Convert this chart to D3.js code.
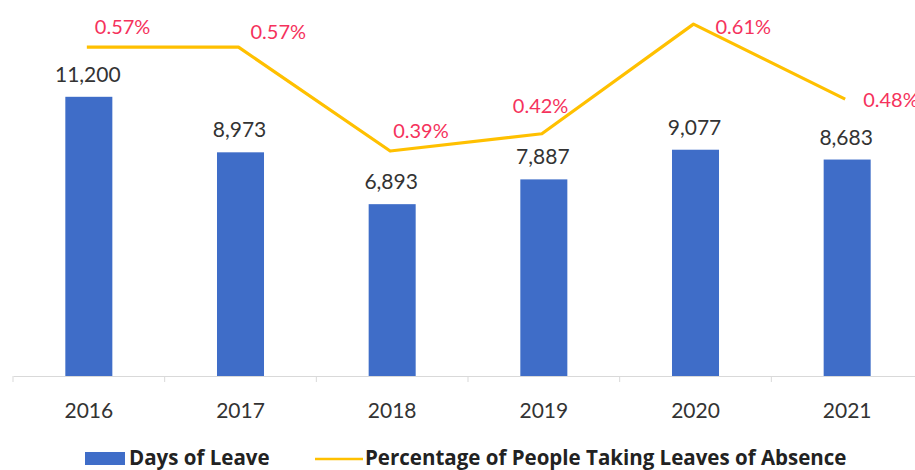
<!DOCTYPE html>
<html>
<head>
<meta charset="utf-8">
<script src="https://cdn.jsdelivr.net/npm/d3@7"></script>
<style>
  html, body { margin: 0; padding: 0; background: #fff; }
  svg { display: block; }
  text { font-family: Lato, "Open Sans", sans-serif; }
</style>
</head>
<body>
<svg id="chart" width="915" height="470"></svg>
<script>
// ---- data ----
const years = ["2016", "2017", "2018", "2019", "2020", "2021"];
const daysOfLeave = [11200, 8973, 6893, 7887, 9077, 8683];
const percentTaking = [0.57, 0.57, 0.39, 0.42, 0.61, 0.48];
const percentLabels = ["0.57%", "0.57%", "0.39%", "0.42%", "0.61%", "0.48%"];
const seriesNames = ["Days of Leave", "Percentage of People Taking Leaves of Absence"];

// ---- layout (label placement offsets, not data) ----
const pctLabelOffsets = [[6, -13], [10, -8], [1, -13], [-31, -21], [20, 10], [16, 8]];

const W = 915, H = 470;
const svg = d3.select("#chart");

const x = d3.scaleBand().domain(years).range([13, 923])
  .paddingInner(0.69).paddingOuter(0.345);
const y = d3.scaleLinear().domain([0, 14000]).range([376, 27]);
const y2 = d3.scaleLinear().domain([0, 0.605]).range([376, 27]);

const blue = "#3f6dc8", gold = "#FFC000", red = "#f5325c", dark = "#333333";

// baseline axis
const xAxis = svg.append("g").attr("transform", `translate(0,${y(0)})`)
  .call(d3.axisBottom(x).tickSize(0).tickPadding(27));
xAxis.select(".domain").attr("stroke", "#d9d9d9").attr("stroke-width", 1);
xAxis.selectAll("text").attr("font-size", 21).attr("fill", dark)
  .style("font-family", "Lato, 'Open Sans', sans-serif");
// faint boundary ticks
const bounds = [x.range()[0]].concat(years.slice(1).map(d => x(d) - x.step() * x.paddingInner() / 2));
xAxis.selectAll("line.bound").data(bounds).enter().append("line")
  .attr("class", "bound")
  .attr("x1", d => d).attr("x2", d => d).attr("y1", 0).attr("y2", 6)
  .attr("stroke", "#d9d9d9");

// bars
svg.append("g").selectAll("rect").data(years).enter().append("rect")
  .attr("x", d => x(d))
  .attr("width", x.bandwidth())
  .attr("y", (d, i) => y(daysOfLeave[i]))
  .attr("height", (d, i) => y(0) - y(daysOfLeave[i]))
  .attr("fill", blue);

// bar labels
svg.append("g").selectAll("text").data(years).enter().append("text")
  .attr("x", d => x(d) + x.bandwidth() / 2 - 1)
  .attr("y", (d, i) => y(daysOfLeave[i]) - 15)
  .attr("text-anchor", "middle")
  .attr("font-size", 21)
  .attr("fill", dark)
  .text((d, i) => d3.format(",")(daysOfLeave[i]));

// line
const line = d3.line()
  .x((d, i) => x(years[i]) + x.bandwidth() / 2 - 2)
  .y(d => y2(d));
svg.append("path").datum(percentTaking)
  .attr("d", line)
  .attr("fill", "none")
  .attr("stroke", gold)
  .attr("stroke-width", 3.2)
  .attr("stroke-linejoin", "round");

// percentage labels
svg.append("g").selectAll("text").data(percentTaking).enter().append("text")
  .attr("x", (d, i) => x(years[i]) + x.bandwidth() / 2 + pctLabelOffsets[i][0])
  .attr("y", (d, i) => y2(d) + pctLabelOffsets[i][1])
  .attr("font-size", 20)
  .attr("fill", red)
  .text((d, i) => percentLabels[i]);

// legend
const lg = svg.append("g");
lg.append("rect").attr("x", 85).attr("y", 452).attr("width", 40).attr("height", 13).attr("fill", blue);
lg.append("text").attr("x", 129).attr("y", 465).attr("font-size", 20.5).attr("font-weight", "bold")
  .style("font-family", "'Open Sans', Lato, sans-serif")
  .attr("fill", "#222").text(seriesNames[0]);
lg.append("line").attr("x1", 315).attr("x2", 363).attr("y1", 459).attr("y2", 459)
  .attr("stroke", gold).attr("stroke-width", 2.5);
lg.append("text").attr("x", 365).attr("y", 465).attr("font-size", 20.5).attr("font-weight", "bold")
  .style("font-family", "'Open Sans', Lato, sans-serif")
  .attr("fill", "#222").text(seriesNames[1]);
</script>
</body>
</html>
